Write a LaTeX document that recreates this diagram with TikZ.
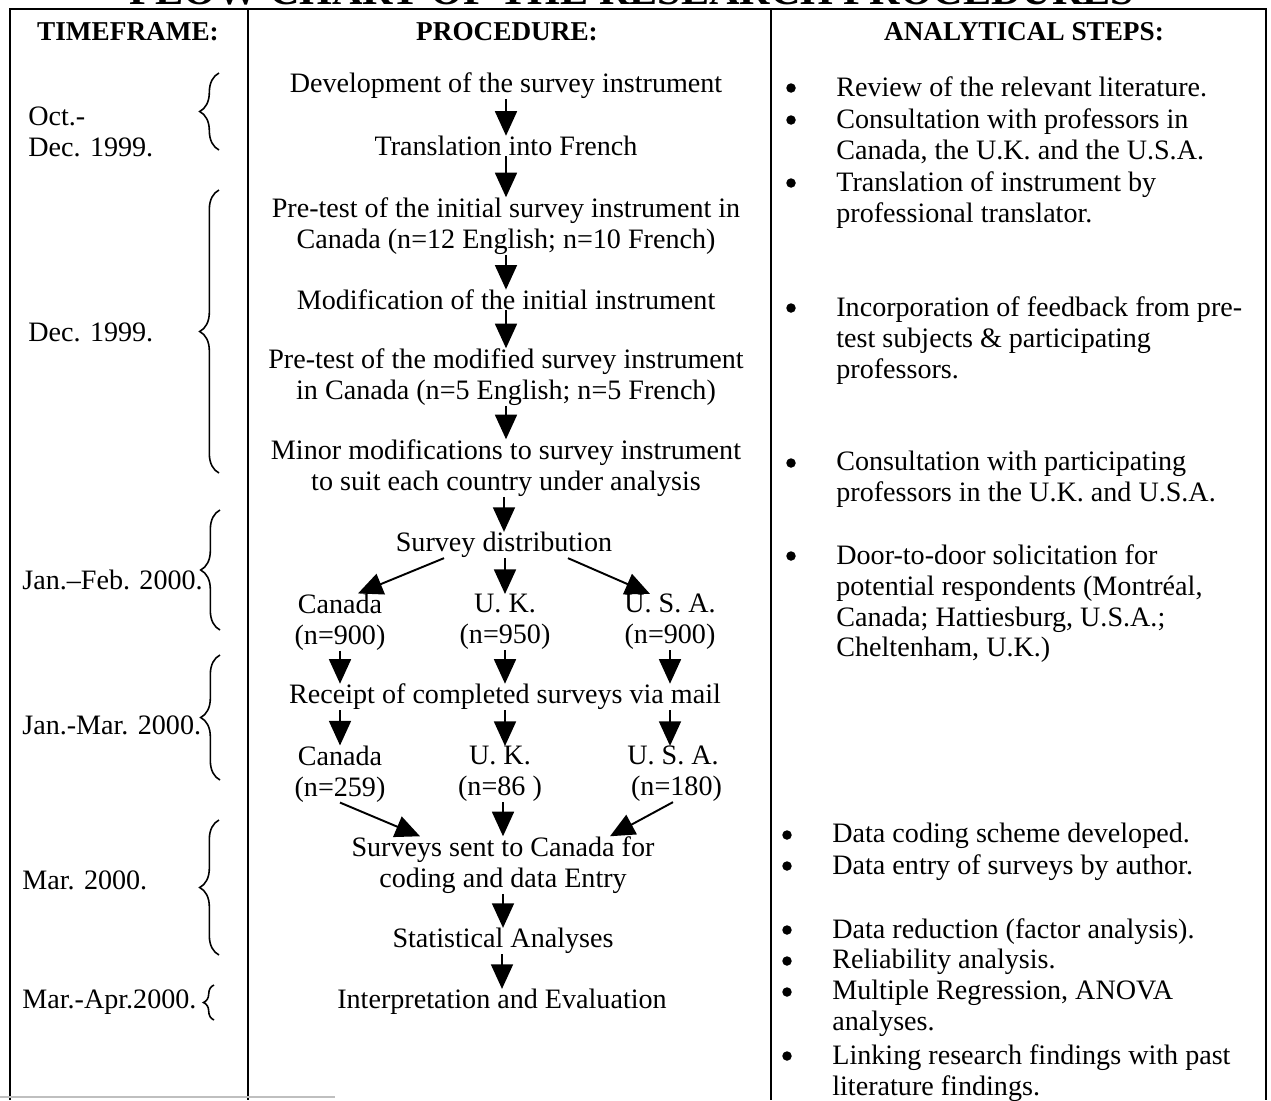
\documentclass[tikz,border=0pt]{standalone}
\usepackage{fontspec}
\setmainfont{Liberation Serif}
\usetikzlibrary{arrows.meta,decorations.pathreplacing}

\newcommand{\testo}{\fontsize{16}{17.6}\selectfont}

\begin{document}
\begin{tikzpicture}[x=0.02cm, y=-0.02cm,
    passo/.style={align=center, inner sep=0pt, font=\testo},
    periodo/.style={align=left, anchor=west, inner sep=0pt, font=\testo},
    voce/.style={align=left, anchor=north west, inner sep=0pt, font=\testo},
    punto/.style={circle, fill, inner sep=0pt, minimum size=5.4pt},
    testata/.style={inner sep=0pt, font=\bfseries\fontsize{15.5}{18}\selectfont},
    freccia/.style={-{Triangle[width=12.5pt,length=14pt]}, line width=1.1pt},
    graffa/.style={decorate, decoration={brace, amplitude=#1}, line width=0.9pt},
    graffa/.default=11pt]
    \useasboundingbox (0,0) rectangle (1271,1100);

    % Titolo (tagliato in alto)
    \node[inner sep=0pt, anchor=base, font=\bfseries\fontsize{24}{28}\selectfont] (titolo) at (632,4) {FLOW CHART OF THE RESEARCH PROCEDURES};

    % Tabella
    \draw[line width=1.1pt] (10,1100) -- (10,9) -- (1266,9) -- (1266,1100);
    \draw[line width=1.1pt] (248,9) -- (248,1100);
    \draw[line width=1.1pt] (771,9) -- (771,1100);
    \draw[gray!50, line width=1pt] (0,1097) -- (335,1097);

    % Intestazioni
    \node[testata] (hTempo) at (128,32) {TIMEFRAME:};
    \node[testata] (hProc) at (507,32) {PROCEDURE:};
    \node[testata] (hAnal) at (1024,32) {ANALYTICAL STEPS:};

    % Periodi e graffe
    \node[periodo] (t1) at (28,132) {Oct.-\\Dec. 1999.};
    \node[periodo] (t2) at (28,332) {Dec. 1999.};
    \node[periodo] (t3) at (22,580) {Jan.--Feb. 2000.};
    \node[periodo] (t4) at (22,725) {Jan.-Mar. 2000.};
    \node[periodo] (t5) at (22,880) {Mar. 2000.};
    \node[periodo] (t6) at (22,1002) {Mar.-Apr.2000.};
    \draw[graffa] (219,150) -- (219,73);
    \draw[graffa] (219,473) -- (219,190);
    \draw[graffa] (220,630) -- (220,510);
    \draw[graffa] (220,780) -- (220,655);
    \draw[graffa] (219,955) -- (219,820);
    \draw[graffa=6pt] (214,1020) -- (214,985);

    % Procedura
    \node[passo] (svil) at (506,86) {Development of the survey instrument};
    \node[passo] (trad) at (506,146) {Translation into French};
    \node[passo] (pre1) at (506,226) {Pre-test of the initial survey instrument in\\Canada (n=12 English; n=10 French)};
    \node[passo] (modif) at (506,300) {Modification of the initial instrument};
    \node[passo] (pre2) at (506,377) {Pre-test of the modified survey instrument\\in Canada (n=5 English; n=5 French)};
    \node[passo] (minori) at (506,468) {Minor modifications to survey instrument\\to suit each country under analysis};
    \node[passo] (distr) at (504,545) {Survey distribution};
    \node[passo] (can1) at (340,622) {Canada\\(n=900)};
    \node[passo] (uk1) at (505,622) {U. K.\\(n=950)};
    \node[passo] (usa1) at (670,622) {U. S. A.\\(n=900)};
    \node[passo] (ricev) at (505,697) {Receipt of completed surveys via mail};
    \node[passo] (can2) at (340,774) {Canada\\(n=259)};
    \node[passo] (uk2) at (500,774) {U. K.\\(n=86 )};
    \node[passo] (usa2) at (673,774) {U. S. A.\\\ (n=180)};
    \node[passo] (invio) at (503,865) {Surveys sent to Canada for\\coding and data Entry};
    \node[passo] (stat) at (503,941) {Statistical Analyses};
    \node[passo] (interp) at (502,1002) {Interpretation and Evaluation};

    % Frecce verticali
    \foreach \a/\b in {svil/trad, trad/pre1, pre1/modif, modif/pre2, pre2/minori, minori/distr, invio/stat, stat/interp}
        \draw[freccia] (\b.north |- \a.south) -- (\b.north);
    % Distribuzione e ritorno
    \draw[freccia] ([xshift=-1.2cm]distr.south) -- ([xshift=0.36cm]can1.north);
    \draw[freccia] (uk1.north |- distr.south) -- (uk1.north);
    \draw[freccia] ([xshift=1.28cm]distr.south) -- ([xshift=-0.4cm]usa1.north);
    \foreach \p/\q in {can1/can2, uk1/uk2, usa1/usa2} {
        \draw[freccia] (\p.south) -- (\p.south |- ricev.north);
        \draw[freccia] (\p.south |- ricev.south) -- (\p.south |- \q.north);
    }
    \draw[freccia] (can2.south) -- ([xshift=-1.66cm]invio.north);
    \draw[freccia] (invio.north |- uk2.south) -- (invio.north);
    \draw[freccia] (usa2.south) -- ([xshift=2.14cm]invio.north);

    % Passi analitici
    \foreach \y [count=\i] in {88,120,183,308,463,556}
        \node[punto] (pa\i) at (791,\y) {};
    \foreach \y [count=\i] in {835,866,930,961,992,1056}
        \node[punto] (pb\i) at (787,\y) {};
    \node[voce] (v1) at (836,76) {Review of the relevant literature.};
    \node[voce] (v2) at (836,108) {Consultation with professors in\\Canada, the U.K. and the U.S.A.};
    \node[voce] (v3) at (836,171) {Translation of instrument by\\professional translator.};
    \node[voce] (v4) at (836,296) {Incorporation of feedback from pre-\\test subjects \& participating\\professors.};
    \node[voce] (v5) at (836,451) {Consultation with participating\\professors in the U.K. and U.S.A.};
    \node[voce] (v6) at (836,544) {Door-to-door solicitation for\\potential respondents (Montréal,\\Canada; Hattiesburg, U.S.A.;\\Cheltenham, U.K.)};
    \node[voce] (v7) at (832,823) {Data coding scheme developed.};
    \node[voce] (v8) at (832,854) {Data entry of surveys by author.};
    \node[voce] (v9) at (832,918) {Data reduction (factor analysis).};
    \node[voce] (v10) at (832,949) {Reliability analysis.};
    \node[voce] (v11) at (832,980) {Multiple Regression, ANOVA\\analyses.};
    \node[voce] (v12) at (832,1044) {Linking research findings with past\\literature findings.};
\end{tikzpicture}
\end{document}
